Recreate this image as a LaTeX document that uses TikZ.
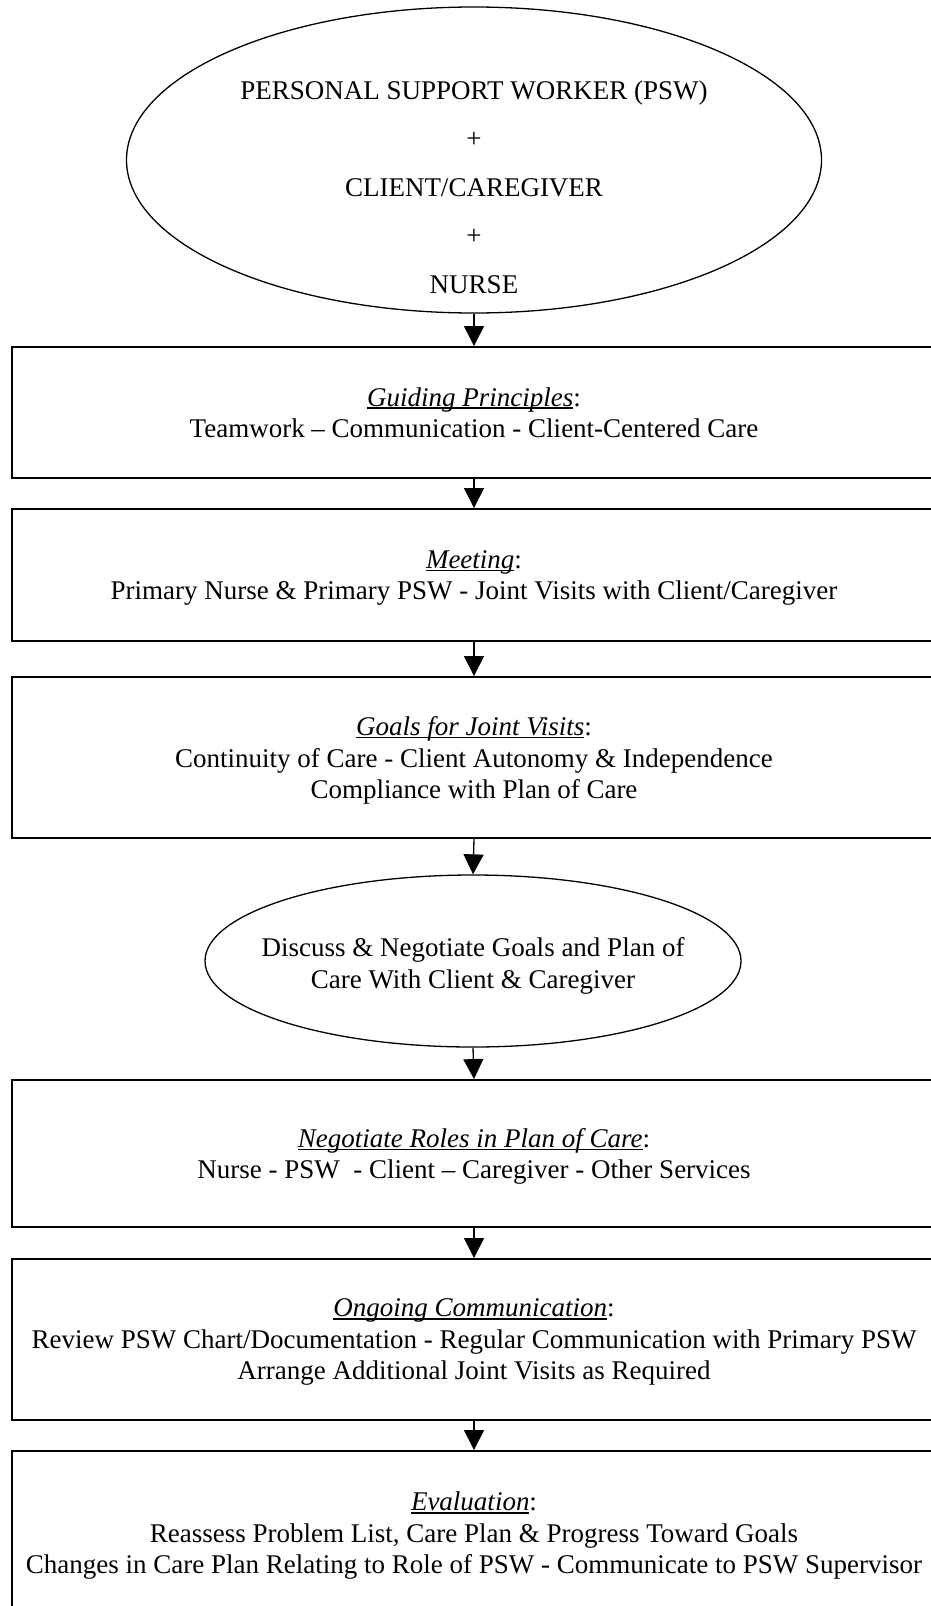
\documentclass[tikz,border=0pt]{standalone}
\usepackage{fontspec}
\setmainfont{Liberation Serif}
\usetikzlibrary{arrows.meta,shapes.geometric}
% italic heading underlined just below the baseline, colon left plain
\newsavebox{\headbox}
\newcommand{\heading}[1]{\sbox{\headbox}{\textit{#1}}\rlap{\rule[-0.11em]{\wd\headbox}{0.06em}}\usebox{\headbox}:}
\begin{document}
\begin{tikzpicture}[x=1pt,y=-1pt,
  txt/.style={font=\fontsize{27}{31.5}\selectfont, align=center, text depth=0pt},
  stagebox/.style={txt, draw, line width=1.9pt, rectangle, minimum width=924pt, inner sep=0pt},
  oval/.style={draw, line width=1.3pt, ellipse, inner sep=0pt},
  flow/.style={line width=1.3pt, -{Triangle[length=20pt,width=20pt]}}]
\useasboundingbox (0,0) rectangle (930,1606);

% top ellipse: the three partners, text sitting a little below its centre
\node[oval, minimum width=695pt, minimum height=306pt] (partners) at (474,160) {};
\node[txt, font=\fontsize{27}{48.5}\selectfont] (partnerstext) at (474,187)
  {PERSONAL SUPPORT WORKER (PSW)\\+\\CLIENT/CAREGIVER\\+\\NURSE};

\node[stagebox, minimum height=131pt] (principles) at (474,412.5)
  {\heading{Guiding Principles}\\Teamwork -- Communication - Client-Centered Care};

\node[stagebox, minimum height=132pt] (meeting) at (474,575)
  {\heading{Meeting}\\Primary Nurse \& Primary PSW - Joint Visits with Client/Caregiver};

\node[stagebox, minimum height=161pt] (goals) at (474,757.5)
  {\heading{Goals for Joint Visits}\\Continuity of Care - Client Autonomy \& Independence\\Compliance with Plan of Care};

% middle ellipse: text set on its own so the oval keeps its proportions
\node[oval, minimum width=536pt, minimum height=172pt] (discuss) at (473,961) {};
\node[txt] (discusstext) at (473,963)
  {Discuss \& Negotiate Goals and Plan of\\Care With Client \& Caregiver};

\node[stagebox, minimum height=147pt] (roles) at (474,1153.5)
  {\heading{Negotiate Roles in Plan of Care}\\Nurse - PSW \ - Client -- Caregiver - Other Services};

\node[stagebox, minimum height=161pt] (ongoing) at (474,1339.5)
  {\heading{Ongoing Communication}\\Review PSW Chart/Documentation - Regular Communication with Primary PSW\\Arrange Additional Joint Visits as Required};

\node[stagebox, minimum height=164pt] (evaluation) at (474,1533)
  {\heading{Evaluation}\\Reassess Problem List, Care Plan \& Progress Toward Goals\\Changes in Care Plan Relating to Role of PSW - Communicate to PSW Supervisor};

% connectors
\draw[flow] (partners.south) -- (principles.north);
\draw[flow] (principles.south) -- (meeting.north);
\draw[flow] (meeting.south) -- (goals.north);
\draw[flow] (goals.south) -- (discuss.north);
\draw[flow] (discuss.south) -- (roles.north);
\draw[flow] (roles.south) -- (ongoing.north);
\draw[flow] (ongoing.south) -- (evaluation.north);
\end{tikzpicture}
\end{document}
